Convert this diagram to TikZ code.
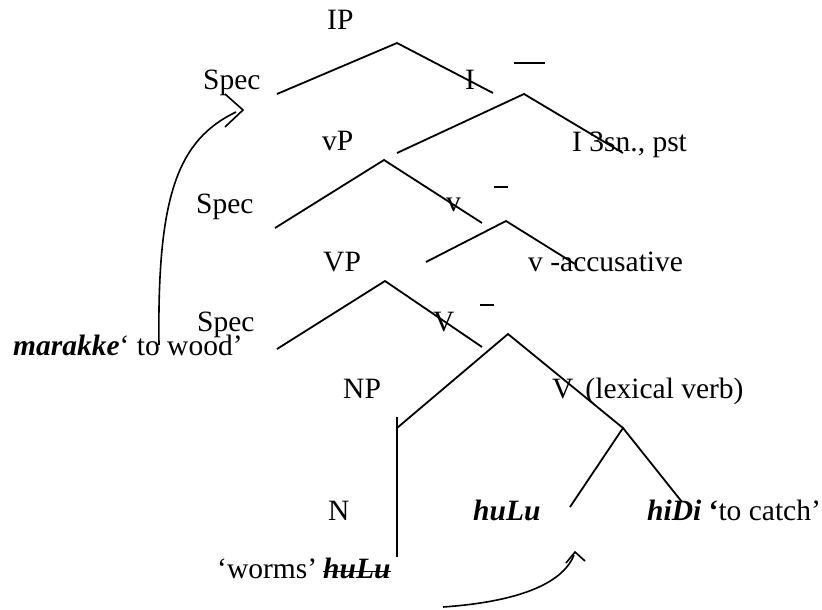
\documentclass[tikz,border=0pt]{standalone}
\usepackage{fontspec}
\setmainfont{Liberation Serif}
\begin{document}
\begin{tikzpicture}[x=1pt,y=-1pt,
  lbl/.style={anchor=base west, inner sep=0pt, font=\fontsize{29.5}{34}\selectfont},
  branch/.style={line width=1.8pt},
  barline/.style={line width=1.8pt},
  movement/.style={line width=1.6pt},
  chevron/.style={line width=1.6pt}]
\useasboundingbox (0,0) rectangle (822,610);

% ---- labels ----
\node[lbl] (ip)     at (327,30)  {IP};
\node[lbl] (spec1)  at (203,89)  {Spec};
\node[lbl] (ibar)   at (465,89)  {I};
\node[lbl] (infl)   at (572,151) {I 3sn., pst};
\node[lbl] (vp)     at (322,150) {vP};
\node[lbl] (spec2)  at (196,213) {Spec};
\node[lbl] (vbar)   at (446,211) {v};
\node[lbl] (lightv) at (528,271) {v -accusative};
\node[lbl] (bigvp)  at (323,271) {VP};
\node[lbl] (spec3)  at (197,331) {Spec};
\node[lbl] (Vbar)   at (433,331) {V};
\node[lbl] (np)     at (343,398) {NP};
\node[lbl] (lexv)   at (552,398) {V\hspace{12pt}(lexical verb)};
\node[lbl] (n)      at (328,520) {N};
\node[lbl] (verb)   at (473,520) {\textbf{\textit{huLu}}};
\node[lbl] (catch)  at (647,520) {\textbf{\textit{hiDi}} \textbf{‘}to catch’};
\node[lbl] (worms)  at (217,578) {‘worms’};
\node[lbl] (trace)  at (323,578) {\textbf{\textit{huLu}}};
\node[lbl] (marakke) at (13,355) {\textbf{\textit{marakke}}‘ to wood’};

% strike-through on the trace
\draw[barline] ([yshift=6.5pt]trace.base west) -- ([yshift=6.5pt]trace.base east);

% ---- bars over the intermediate projections ----
\coordinate (ibarL) at (514,63);  \coordinate (ibarR) at (545,63);
\coordinate (vbarL) at (494,187); \coordinate (vbarR) at (508,187);
\coordinate (VbarL) at (480,305); \coordinate (VbarR) at (494,305);
\draw[barline] (ibarL) -- (ibarR);
\draw[barline] (vbarL) -- (vbarR);
\draw[barline] (VbarL) -- (VbarR);

% ---- branch points and ends ----
\coordinate (ipTop)  at (397,43);
\coordinate (ipL)    at (277,94);
\coordinate (ipR)    at (493,93);
\coordinate (i1Top)  at (524,94);
\coordinate (i1L)    at (397,153);
\coordinate (i1R)    at (623,153);
\coordinate (vpTop)  at (384,160);
\coordinate (vpL)    at (275,228);
\coordinate (vpR)    at (482,223);
\coordinate (v1Top)  at (506,221);
\coordinate (v1L)    at (426,262);
\coordinate (v1R)    at (575,264);
\coordinate (VPTop)  at (385,281);
\coordinate (VPL)    at (277,349);
\coordinate (VPR)    at (482,347);
\coordinate (V1Top)  at (508,334);
\coordinate (V1L)    at (397,428);
\coordinate (V1R)    at (623,428);
\coordinate (npTop)  at (397,417);
\coordinate (npBot)  at (397,557);
\coordinate (lexL)   at (570,507);
\coordinate (lexR)   at (682,502);

\draw[branch] (ipL) -- (ipTop) -- (ipR);
\draw[branch] (i1L) -- (i1Top) -- (i1R);
\draw[branch] (vpL) -- (vpTop) -- (vpR);
\draw[branch] (v1L) -- (v1Top) -- (v1R);
\draw[branch] (VPL) -- (VPTop) -- (VPR);
\draw[branch] (V1L) -- (V1Top) -- (V1R);
\draw[branch] (npTop) -- (npBot);
\draw[branch] (lexL) -- (V1R) -- (lexR);

% ---- movement arrows ----
\coordinate (mTail) at (159,345);
\coordinate (mEnd)  at (236,112);
\coordinate (mTip)  at (243,110);
\draw[movement] (mTail) .. controls (157,195) and (178,140) .. (mEnd);
\draw[chevron] (225,94) -- (mTip) -- (225,127);

\coordinate (hTail) at (443,607);
\coordinate (hEnd)  at (574,555);
\coordinate (hTip)  at (575,552);
\draw[movement] (hTail) .. controls (515,602) and (562,585) .. (hEnd);
\draw[chevron] (566,563) -- (hTip) -- (585,561);
\end{tikzpicture}
\end{document}
